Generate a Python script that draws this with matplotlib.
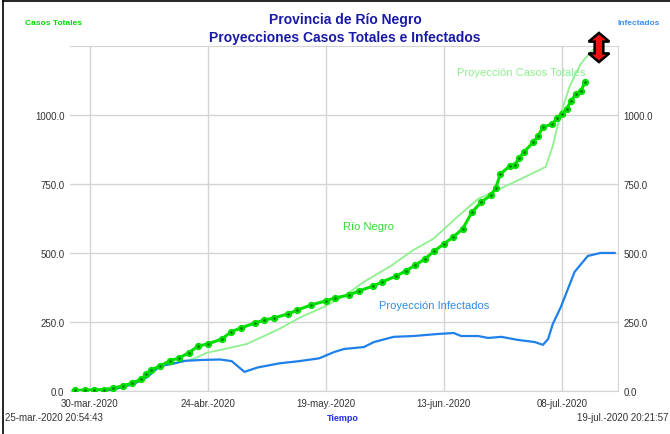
import datetime as dt
import matplotlib
matplotlib.use("Agg")
import matplotlib.pyplot as plt
from matplotlib.patches import Polygon
from matplotlib.lines import Line2D

plt.rcParams['font.family'] = ['Liberation Sans', 'DejaVu Sans']

# dias contados desde el 30-mar-2020
base = dt.datetime(2020, 3, 30)

# casos confirmados Rio Negro
dias_rn = [-3, -1, 1, 3, 5, 7, 9, 11, 12, 13, 15, 17, 19, 21, 23, 25, 28, 30, 32, 35,
           37, 39, 42, 44, 47, 50, 52, 55, 57, 60, 62, 65, 67, 69, 71, 73, 75, 77, 79, 81,
           83, 85, 86, 87, 89, 90, 91, 92, 94, 95, 96, 98, 99, 100, 101, 102, 103, 104, 105]
casos_rn = [2, 3, 4, 5, 10, 18, 28, 43, 62, 76, 91, 109, 120, 138, 163, 170, 188, 214, 228, 246,
            257, 264, 279, 293, 312, 326, 337, 348, 362, 380, 395, 417, 435, 456, 478, 507, 532, 558, 587, 648,
            685, 710, 735, 786, 815, 819, 844, 866, 902, 924, 956, 967, 989, 1004, 1022, 1051, 1076, 1087, 1120]

# proyeccion casos totales
dias_proy = [-3.6, 3.4, 6.1, 9.3, 12.2, 14.9, 17.5, 20.2, 22.3, 24.8, 28.6, 33.3, 37.1, 40.2,
             44.8, 49.7, 53.9, 58.1, 63.8, 68.6, 72.8, 78.1, 82.3, 88.6, 93.5, 96.6, 98.1,
             99.6, 101.7, 104.0, 106.1, 107.2]
casos_proy = [0, 0, 10, 25, 50, 90, 98, 108, 118, 138, 152, 170, 200, 225,
              268, 305, 344, 395, 453, 511, 551, 634, 696, 746, 786, 812, 888,
              996, 1105, 1185, 1228, 1245]

# proyeccion infectados
dias_inf = [-3.6, 1.9, 3.4, 6.1, 9.3, 12.2, 14.9, 17.5, 20.2, 23.4, 27.6, 30.1, 32.8, 35.6,
            40.2, 44.4, 48.6, 51.8, 53.9, 58.1, 60.2, 64.4, 68.6, 73.5, 77.1, 78.7, 82.3,
            84.4, 87.2, 90.7, 94.3, 96.0, 97.1, 98.1, 99.8, 102.7, 105.5, 108.2, 111.2]
infectados = [0, 0, 0, 10, 25, 50, 90, 98, 109, 112, 114, 108, 69, 85,
              100, 108, 118, 141, 152, 159, 177, 196, 199, 206, 210, 199, 199,
              192, 196, 185, 177, 167, 188, 243, 304, 431, 489, 500, 500]

yticks = [0, 250, 500, 750, 1000]
xticks_lbl = ["30-mar.-2020", "24-abr.-2020", "19-may.-2020", "13-jun.-2020", "08-jul.-2020"]
t_ini = dt.datetime(2020, 3, 25, 20, 54, 43)
t_fin = dt.datetime(2020, 7, 19, 20, 21, 57)


def to_dates(dias):
    return [base + dt.timedelta(days=d) for d in dias]


fig = plt.figure(figsize=(6.7, 4.35), dpi=100)
ax = fig.add_axes([0.1045, 0.099, 0.8175, 0.793])

ax.plot(to_dates(dias_proy), casos_proy, color='#8ef08e', lw=1.3, zorder=3)
ax.plot(to_dates(dias_inf), infectados, color='#1f80ea', lw=1.6, zorder=4)
ax.plot(to_dates(dias_rn), casos_rn, color='#00e000', lw=2.2, marker='o', ms=4.2,
        mec='#00e000', mfc='#00e000', zorder=5)
ax.plot(to_dates(dias_rn), casos_rn, ls='none', marker='o', ms=0.9,
        color='#0a7a0a', zorder=6)

ax.set_xlim(t_ini, t_fin)
ax.set_ylim(0, 1250)
ax.set_yticks(yticks)
ax.set_yticklabels(["%.1f" % v for v in yticks])
xt = [base + dt.timedelta(days=25 * i) for i in range(5)]
ax.set_xticks(xt)
ax.set_xticklabels(xticks_lbl)
ax.grid(True, color='#d4d4d4', lw=1)
ax.set_axisbelow(True)
ax.tick_params(length=0, labelsize=7, colors='#333333', pad=4)
ax.tick_params(axis='x', pad=5)
for side, sp in ax.spines.items():
    sp.set_color('#d4d4d4')
ax.spines['left'].set_visible(False)

ax2 = ax.twinx()
ax2.set_ylim(0, 1250)
ax2.set_yticks(yticks)
ax2.set_yticklabels(["%.1f" % v for v in yticks])
ax2.tick_params(length=0, labelsize=7, colors='#333333', pad=4)
for sp in ax2.spines.values():
    sp.set_visible(False)

# rotulos de las series
ax.text(base + dt.timedelta(days=59), 585, "Río Negro", color='#30dd30', fontsize=8, ha='center')
ax.text(base + dt.timedelta(days=91.5), 1145, "Proyección Casos Totales", color='#90ee90',
        fontsize=8, ha='center')
ax.text(base + dt.timedelta(days=73), 300, "Proyección Infectados", color='#2f8be8',
        fontsize=8, ha='center')

# titulos
fig.text(0.515, 0.954, "Provincia de Río Negro", color='#1a1aa8', fontsize=10,
         fontweight='bold', ha='center', va='center')
fig.text(0.515, 0.913, "Proyecciones Casos Totales e Infectados", color='#1a1aa8',
         fontsize=10, fontweight='bold', ha='center', va='center')
fig.text(0.037, 0.945, "Casos Totales", color='#00dd00', fontsize=6, fontweight='bold',
         ha='left', va='center')
fig.text(0.985, 0.945, "Infectados", color='#3a8ef0', fontsize=6, fontweight='bold',
         ha='right', va='center')
fig.text(0.512, 0.038, "Tiempo", color='#2030e0', fontsize=6.5, fontweight='bold',
         ha='center', va='center')
fig.text(0.007, 0.038, "25-mar.-2020 20:54:43", color='#333333', fontsize=7,
         ha='left', va='center')
fig.text(0.997, 0.038, "19-jul.-2020 20:21:57", color='#333333', fontsize=7,
         ha='right', va='center')

# flecha doble roja
cx, w_h, w_s = 0.894, 0.0155, 0.0065
yt, yb, hh = 0.922, 0.855, 0.02
flecha = [(cx, yt), (cx + w_h, yt - hh), (cx + w_s, yt - hh), (cx + w_s, yb + hh),
          (cx + w_h, yb + hh), (cx, yb), (cx - w_h, yb + hh), (cx - w_s, yb + hh),
          (cx - w_s, yt - hh), (cx - w_h, yt - hh)]
fig.patches.append(Polygon(flecha, closed=True, transform=fig.transFigure,
                           facecolor='#ee1111', edgecolor='black', lw=1.8,
                           joinstyle='miter', zorder=10))

# borde exterior
fig.add_artist(Line2D([0.004, 0.004], [0, 0.996], color='black', lw=1.2))
fig.add_artist(Line2D([0.004, 1], [0.996, 0.996], color='black', lw=1.2))

fig.savefig("out.png", dpi=100)
